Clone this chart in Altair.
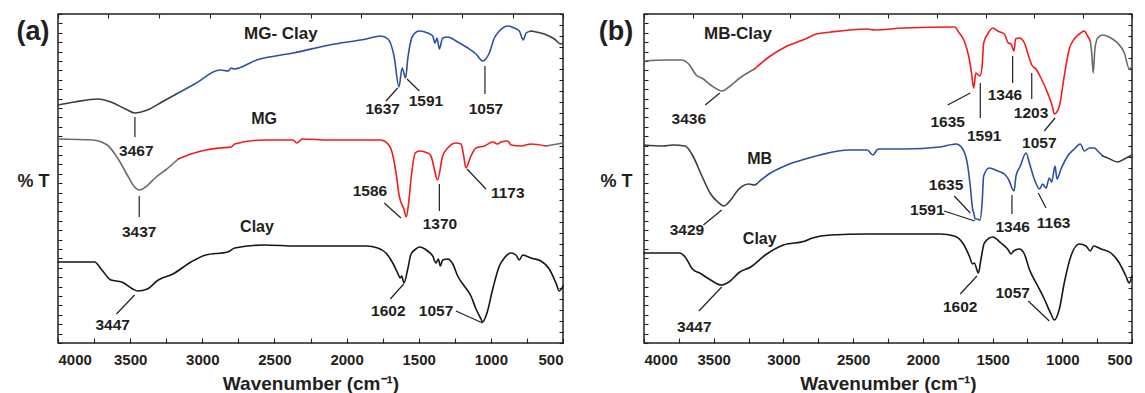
import altair as alt
import numpy as np
import pandas as pd

# ---------------------------------------------------------------- styling
INK = "#231f20"
BLUE = "#2d4fa3"
RED = "#f21c1f"
GREY_DARK = "#3d3d3d"
GREY = "#6b6b6b"
BLACK = "#161616"
FONT = "Liberation Sans"

W_A, W_B, H = 505, 488, 329          # plot areas of panel (a), panel (b)

# ---------------------------------------------------------------- spectra, panel (a)
# transmittance is in arbitrary offset units (curves are stacked)
MGC_WN = [4000, 3886, 3722, 3633, 3532, 3467, 3381, 3280, 3179, 3053, 2876, 2820, 2800,
          2780, 2623, 2370, 2118, 1865, 1764, 1713, 1671, 1637, 1615, 1591, 1576, 1542,
          1496, 1438, 1403, 1387, 1373, 1357, 1334, 1299, 1230, 1160, 1103, 1057, 1011,
          976, 941, 883, 838, 803, 775, 756, 722, 630, 560, 514, 500]
MGC_T = [238, 241, 244, 241, 234, 230, 233, 241, 249, 259, 273, 272, 275,
         274, 283, 290, 298, 304, 307, 304, 287, 256, 275, 265, 284, 307,
         312, 310, 307, 300, 305, 294, 305, 306, 301, 295, 289, 282, 290,
         305, 312, 317, 315, 312, 303, 310, 312, 309, 304, 299, 300]

MG_WN = [4000, 3760, 3659, 3583, 3520, 3469, 3437, 3393, 3320, 3254, 3166, 3078, 2976,
         2876, 2800, 2775, 2572, 2370, 2345, 2307, 2118, 1764, 1739, 1692, 1657, 1635,
         1603, 1586, 1570, 1551, 1524, 1496, 1438, 1415, 1392, 1370, 1334, 1299, 1242,
         1207, 1188, 1173, 1138, 1103, 1045, 987, 953, 930, 883, 860, 791, 722, 618, 500]
MG_T = [204, 203, 198, 184, 168, 156, 153, 156, 166, 173, 184, 189, 193,
        195, 196, 199, 203, 203, 200, 204, 203, 203, 202, 194, 170, 147,
        134, 126, 140, 167, 190, 192, 190, 187, 174, 163, 187, 195, 200,
        199, 187, 175, 187, 195, 197, 201, 199, 201, 202, 198, 197, 199, 197, 200]

CLAY_A_WN = [4000, 3747, 3696, 3633, 3558, 3482, 3447, 3381, 3305, 3204, 3078, 2976, 2825,
             2775, 2572, 2345, 1865, 1784, 1727, 1680, 1646, 1628, 1618, 1602, 1576, 1553,
             1519, 1496, 1438, 1403, 1380, 1364, 1350, 1334, 1299, 1264, 1230, 1184, 1138,
             1103, 1068, 1057, 1027, 987, 941, 907, 860, 826, 803, 779, 722, 653, 595, 549,
             526, 500]
CLAY_A_T = [81, 81, 73, 63, 61, 54, 52, 54, 63, 69, 81, 88, 91,
            95, 98, 97, 97, 95, 90, 80, 70, 65, 67, 60, 74, 89,
            94, 96, 92, 87, 80, 84, 77, 83, 84, 79, 67, 57, 47,
            34, 24, 21, 30, 54, 77, 85, 90, 88, 83, 88, 85, 82, 74, 60,
            52, 57]

# ---------------------------------------------------------------- spectra, panel (b)
MBC_WN = [4000, 3835, 3731, 3679, 3626, 3574, 3522, 3436, 3391, 3313, 3208, 3104, 2974,
          2843, 2764, 2660, 2398, 2346, 2137, 1772, 1739, 1703, 1667, 1650, 1635, 1620,
          1591, 1575, 1564, 1535, 1499, 1463, 1416, 1387, 1368, 1346, 1335, 1308, 1272,
          1237, 1219, 1189, 1153, 1105, 1070, 1057, 1021, 986, 950, 914, 878, 842, 818,
          799, 789, 778, 766, 746, 710, 651, 603, 555, 519, 500]
MBC_T = [282, 283, 283, 279, 268, 264, 258, 252, 256, 265, 274, 286, 297,
         304, 309, 311, 314, 313, 315, 316, 310, 302, 284, 269, 255, 270,
         267, 277, 300, 309, 315, 312, 309, 300, 299, 292, 304, 305, 300,
         285, 278, 274, 265, 250, 236, 229, 237, 267, 294, 304, 309, 312, 307,
         302, 290, 270, 294, 305, 308, 305, 300, 290, 274, 277]

MB_WN = [4000, 3862, 3796, 3705, 3653, 3588, 3522, 3470, 3429, 3378, 3326, 3248, 3208,
         3170, 3104, 2974, 2843, 2738, 2530, 2398, 2359, 2320, 2137, 1876, 1762, 1714,
         1678, 1660, 1643, 1635, 1624, 1612, 1591, 1575, 1564, 1524, 1463, 1416, 1387,
         1346, 1332, 1301, 1260, 1236, 1201, 1163, 1141, 1117, 1093, 1076, 1052, 1038,
         1009, 961, 914, 871, 842, 806, 770, 746, 710, 674, 603, 555, 500]
MB_T = [198, 197, 198, 197, 188, 168, 149, 141, 137, 143, 153, 159, 158,
        162, 169, 178, 184, 188, 193, 193, 188, 194, 194, 196, 199, 194,
        177, 157, 134, 130, 124, 124, 123, 140, 167, 175, 172, 169, 164,
        152, 167, 177, 190, 180, 164, 154, 159, 155, 165, 161, 177, 164,
        174, 187, 194, 199, 192, 195, 195, 192, 187, 185, 181, 184, 188]

CLAY_B_WN = [4000, 3744, 3705, 3653, 3601, 3522, 3447, 3391, 3313, 3235, 3130, 3000, 2843,
             2791, 2660, 2398, 1876, 1775, 1714, 1667, 1643, 1631, 1602, 1583, 1559, 1499,
             1440, 1392, 1368, 1349, 1308, 1272, 1237, 1176, 1129, 1081, 1057, 1021, 986,
             938, 878, 830, 799, 775, 722, 651, 591, 544, 520, 500]
CLAY_B_T = [90, 90, 86, 74, 70, 63, 58, 61, 71, 76, 88, 98, 102,
            105, 108, 109, 109, 107, 100, 87, 79, 80, 70, 84, 100, 106,
            100, 94, 89, 92, 94, 89, 74, 57, 44, 29, 23, 34, 60,
            87, 99, 97, 92, 97, 94, 90, 80, 67, 60, 67]

# ---------------------------------------------------------------- labels
A_NAME_TXT = ["MG- Clay", "MG", "Clay"]
A_NAME_WN = [2455, 2572, 2621]
A_NAME_T = [309, 224, 116]
A_NAME_SIZE = [17, 16, 16]

A_PEAK_TXT = ["3467", "1637", "1591", "1057", "3437", "1586", "1370", "1173", "3447", "1602", "1057"]
A_PEAK_WN = [3457, 1750, 1450, 1034, 3437, 1838, 1353, 883, 3621, 1711, 1380]
A_PEAK_T = [192, 234, 242, 234, 111, 152, 119, 150, 18, 32, 32]
# leader lines: from (wn1, t1) to (wn2, t2)
A_LEAD_WN1 = [3467, 1646, 1581, 1041, 3437, 1739, 1357, 1165, 3469, 1604, 1242]
A_LEAD_T1 = [226, 255, 264, 277, 147, 140, 159, 174, 48, 59, 32]
A_LEAD_WN2 = [3467, 1727, 1496, 1041, 3437, 1623, 1357, 1034, 3595, 1697, 1057]
A_LEAD_T2 = [206, 242, 252, 249, 126, 125, 132, 154, 29, 44, 20]

B_NAME_TXT = ["MB-Clay", "MB", "Clay"]
B_NAME_WN = [3326, 3170, 3170]
B_NAME_T = [309, 184, 104]
B_NAME_SIZE = [17, 16, 16]

B_PEAK_TXT = ["3436", "1635", "1591", "1346", "1203", "1057", "3429", "1635", "1591",
              "1346", "1163", "3447", "1602", "1057"]
B_PEAK_WN = [3679, 1822, 1560, 1411, 1224, 1165, 3692, 1834, 1968, 1356, 1062, 3639, 1732, 1356]
B_PEAK_T = [224, 221, 207, 248, 230, 200, 113, 158, 133, 116, 120, 16, 36, 50]
B_LEAD_WN1 = [3456, 1822, 1588, 1356, 1219, 1052, 3443, 1775, 1848, 1361, 1172, 3443, 1612, 1244]
B_LEAD_T1 = [250, 238, 260, 287, 270, 225, 133, 147, 132, 148, 150, 56, 67, 42]
B_LEAD_WN2 = [3561, 1660, 1588, 1356, 1219, 1129, 3574, 1660, 1628, 1361, 1117, 3606, 1732, 1093]
B_LEAD_T2 = [238, 250, 225, 260, 244, 212, 118, 130, 122, 129, 135, 32, 49, 22]


def spectrum_rows(name, wn, t, parts):
    """Split one spectrum into coloured stretches (hi, lo, colour); shared end points keep it continuous."""
    rows = []
    for k, (hi, lo, color) in enumerate(parts):
        for w, v in zip(wn, t):
            if lo <= w <= hi:
                rows.append({"wn": w, "t": v, "seg": f"{name}-{k}", "color": color})
    return rows


def panel(spectra, names, peaks, leads, width, letter, letter_dx):
    xs = alt.Scale(domain=[500, 4000], reverse=True, nice=False, zero=False)
    ys = alt.Scale(domain=[0, H], nice=False, zero=False)
    left_ticks = [round(v, 2) for v in np.linspace(0, H, 36)]
    right_ticks = [round(v, 2) for v in np.linspace(0, H, 31)]

    lines = alt.Chart(pd.DataFrame(spectra)).mark_line(
        strokeWidth=1.6, strokeJoin="round", strokeCap="round", interpolate="monotone"
    ).encode(
        x=alt.X("wn:Q", scale=xs, axis=alt.Axis(
            orient="bottom", values=list(range(500, 4001, 500)), format="d",
            domain=False, ticks=False, tickSize=0, labelPadding=16, labelBaseline="middle",
            labelFontSize=15, title="Wavenumber (cm⁻¹)", titleFontSize=19,
            titleY=40, titleBaseline="middle")),
        y=alt.Y("t:Q", scale=ys, axis=alt.Axis(
            orient="left", labels=False, ticks=False, domain=False,
            title="% T", titleAngle=0, titleX=letter_dx, titleY=167,
            titleAlign="center", titleBaseline="middle", titleFontSize=18)),
        color=alt.Color("color:N", scale=None),
        detail="seg:N",
    )

    leaders = alt.Chart(pd.DataFrame(leads)).mark_rule(color=INK, strokeWidth=1.2).encode(
        x=alt.X("wn1:Q", scale=xs, axis=alt.Axis(
            orient="top", offset=-H, values=list(range(500, 4001, 250)),
            labels=False, domain=False, tickSize=5, title=None)),
        x2="wn2:Q",
        y=alt.Y("t1:Q", scale=ys, axis=alt.Axis(
            orient="right", offset=-width, values=left_ticks,
            labels=False, domain=False, tickSize=4, title=None)),
        y2="t2:Q",
    )

    peak_text = alt.Chart(pd.DataFrame(peaks)).mark_text(
        font=FONT, fontWeight="bold", fontSize=15.5, color=INK, baseline="middle"
    ).encode(
        x=alt.X("wn:Q", scale=xs, axis=alt.Axis(
            orient="bottom", offset=-H, values=list(range(500, 4001, 350)),
            labels=False, domain=False, tickSize=4, title=None)),
        y=alt.Y("t:Q", scale=ys, axis=alt.Axis(
            orient="left", offset=-width, values=right_ticks,
            labels=False, domain=False, tickSize=4, title=None)),
        text="label:N",
    )

    name_text = alt.Chart(pd.DataFrame(names)).mark_text(
        font=FONT, fontWeight="bold", color=INK, baseline="middle"
    ).encode(
        x=alt.X("wn:Q", scale=xs, axis=None),
        y=alt.Y("t:Q", scale=ys, axis=None),
        text="label:N",
        size=alt.Size("size:Q", scale=None),
    )

    tag = alt.Chart(pd.DataFrame({"label": [letter]})).mark_text(
        font=FONT, fontWeight="bold", fontSize=27, color=INK, baseline="middle"
    ).encode(text="label:N", x=alt.value(letter_dx), y=alt.value(18))

    return alt.layer(lines, leaders, peak_text, name_text, tag).properties(
        width=width, height=H
    ).resolve_axis(x="independent", y="independent")


spec_a = (spectrum_rows("mgc", MGC_WN, MGC_T, [(4000, 3179, GREY_DARK), (3179, 722, BLUE), (722, 500, GREY_DARK)])
          + spectrum_rows("mg", MG_WN, MG_T, [(4000, 3166, GREY), (3166, 618, RED), (618, 500, GREY)])
          + spectrum_rows("clay", CLAY_A_WN, CLAY_A_T, [(4000, 500, BLACK)]))
spec_b = (spectrum_rows("mbc", MBC_WN, MBC_T, [(4000, 3208, GREY), (3208, 799, RED), (799, 500, GREY)])
          + spectrum_rows("mb", MB_WN, MB_T, [(4000, 3170, GREY_DARK), (3170, 710, BLUE), (710, 500, GREY_DARK)])
          + spectrum_rows("clay", CLAY_B_WN, CLAY_B_T, [(4000, 500, BLACK)]))

names_a = {"label": A_NAME_TXT, "wn": A_NAME_WN, "t": A_NAME_T, "size": A_NAME_SIZE}
names_b = {"label": B_NAME_TXT, "wn": B_NAME_WN, "t": B_NAME_T, "size": B_NAME_SIZE}
peaks_a = {"label": A_PEAK_TXT, "wn": A_PEAK_WN, "t": A_PEAK_T}
peaks_b = {"label": B_PEAK_TXT, "wn": B_PEAK_WN, "t": B_PEAK_T}
leads_a = {"wn1": A_LEAD_WN1, "t1": A_LEAD_T1, "wn2": A_LEAD_WN2, "t2": A_LEAD_T2}
leads_b = {"wn1": B_LEAD_WN1, "t1": B_LEAD_T1, "wn2": B_LEAD_WN2, "t2": B_LEAD_T2}

panel_a = panel(spec_a, names_a, peaks_a, leads_a, W_A, "(a)", -25)
panel_b = panel(spec_b, names_b, peaks_b, leads_b, W_B, "(b)", -28)

chart = alt.hconcat(panel_a, panel_b, spacing=81, bounds="flush").properties(
    padding={"left": 15, "top": 12, "right": 0, "bottom": 0}
).configure_view(
    stroke=INK, strokeWidth=1.5
).configure_axis(
    grid=False, labelFont=FONT, labelFontWeight="bold", labelColor=INK,
    tickColor=INK, tickWidth=1.1, titleFont=FONT, titleFontWeight="bold", titleColor=INK
)

chart.save("out.html", embed_options={"renderer": "svg", "actions": False})
